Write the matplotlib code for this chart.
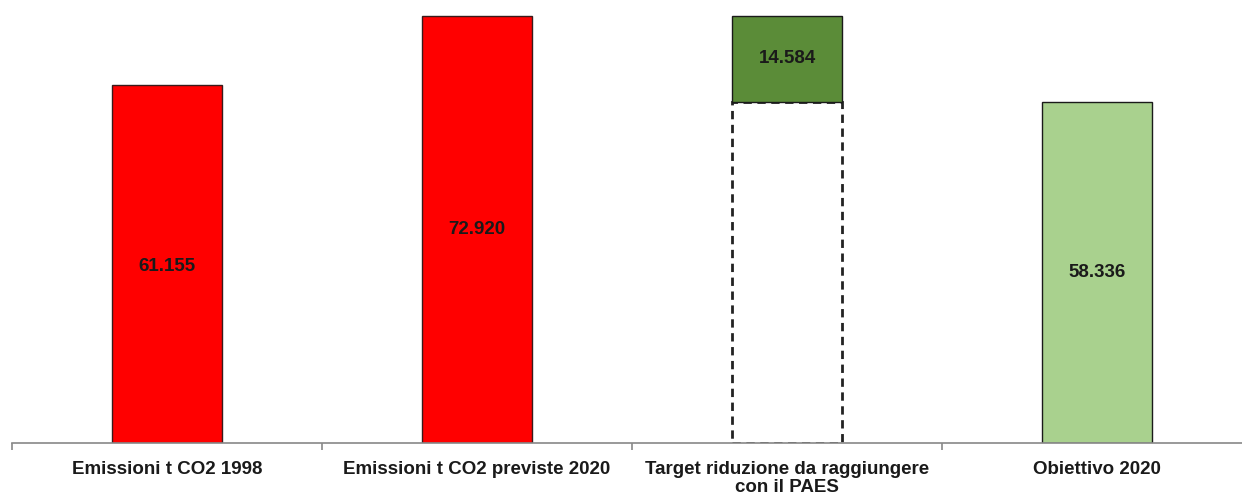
import matplotlib
matplotlib.use("Agg")
import matplotlib.pyplot as plt

categories = ["Emissioni t CO2 1998", "Emissioni t CO2 previste 2020",
              "Target riduzione da raggiungere\ncon il PAES", "Obiettivo 2020"]
emissions_1998 = 61155
emissions_2020 = 72920
reduction_target = 14584
objective_2020 = 58336
value_labels = ["61.155", "72.920", "14.584", "58.336"]

plt.rcParams['font.family'] = ['Liberation Sans', 'DejaVu Sans']

W, H = 1242, 495
fig = plt.figure(figsize=(W / 100, H / 100), dpi=100)
# axes spans x from 12 px to 1252 px, y from baseline 443 px to top
ax = fig.add_axes([12 / W, (H - 443) / H, (1252 - 12) / W, 443 / H])

x = [0, 1, 2, 3]
bw = 0.352
red = "#FF0000"
dgreen = "#5B8C38"
lgreen = "#A9D18E"

ax.bar(x[0], emissions_1998, width=bw, color=red, edgecolor="#3a1a1a", linewidth=1)
ax.bar(x[1], emissions_2020, width=bw, color=red, edgecolor="#3a1a1a", linewidth=1)
ax.bar(x[2], objective_2020, width=bw, color="white", edgecolor="#222222",
       linewidth=2, linestyle=(0, (3, 2)))
ax.bar(x[2], reduction_target, bottom=objective_2020, width=bw, color=dgreen,
       edgecolor="#1a1a1a", linewidth=1)
ax.bar(x[3], objective_2020, width=bw, color=lgreen, edgecolor="#1a1a1a", linewidth=1)

label_y = [emissions_1998 / 2 - 500, emissions_2020 / 2,
           objective_2020 + reduction_target / 2, objective_2020 / 2]
for xi, yi, t in zip(x, label_y, value_labels):
    ax.text(xi, yi, t, ha="center", va="center", fontsize=13.5,
            fontweight="bold", color="#1a1a1a")

ax.set_xlim(-0.5, 3.5)
ax.set_ylim(0, 443 / (358 / emissions_1998))

for s in ["top", "right", "left"]:
    ax.spines[s].set_visible(False)
ax.spines["bottom"].set_color("#888888")
ax.spines["bottom"].set_linewidth(1.2)
ax.set_yticks([])

ax.set_xticks([-0.5, 0.5, 1.5, 2.5, 3.5])
ax.set_xticklabels([])
ax.tick_params(axis="x", which="major", length=5, color="#888888", width=1.2, direction="out")
ax.set_xticks(x, minor=True)
ax.set_xticklabels(categories, minor=True, fontsize=13.5, fontweight="bold",
                   color="#1a1a1a", linespacing=1.05)
ax.tick_params(axis="x", which="minor", length=0, pad=13)

fig.savefig("out.png", dpi=100)
